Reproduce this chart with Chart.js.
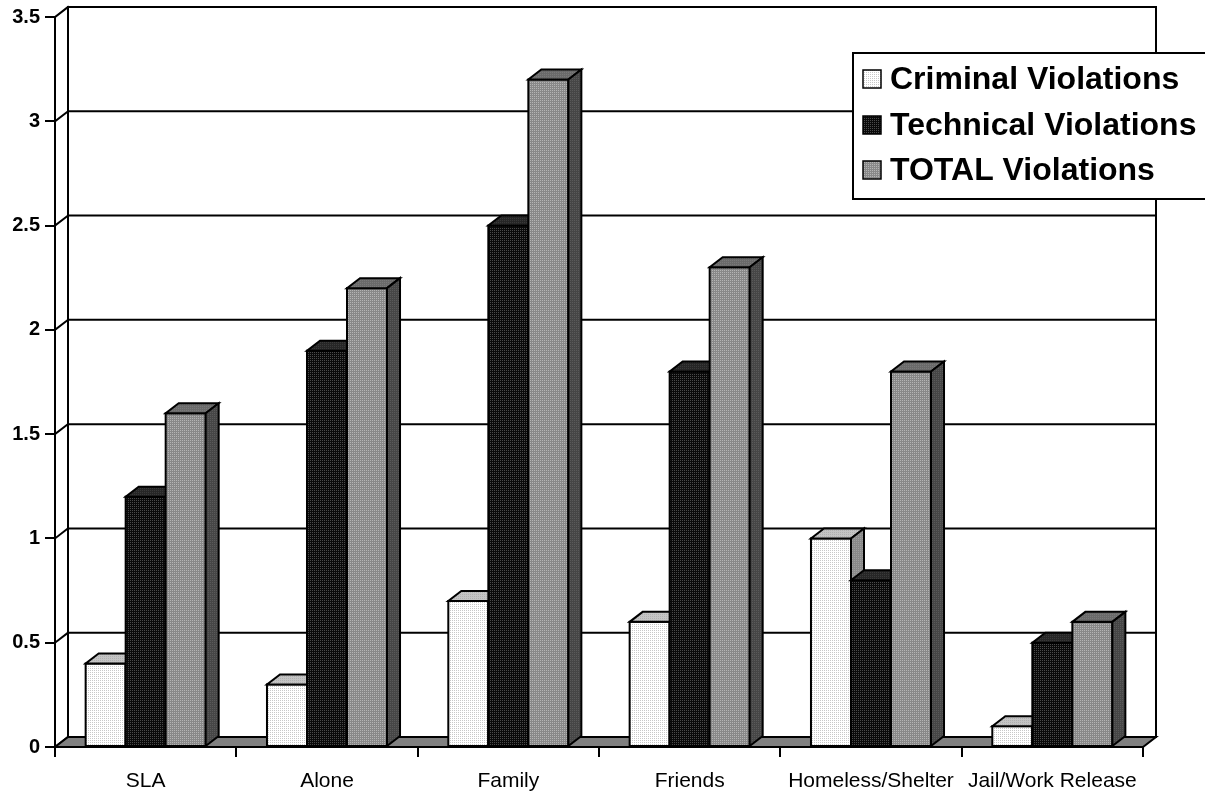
<!DOCTYPE html>
<html>
<head>
<meta charset="utf-8">
<script src="https://cdn.jsdelivr.net/npm/chart.js@4.4.1/dist/chart.umd.min.js"></script>
<style>
  html, body { margin: 0; padding: 0; background: #fff; }
  #wrap { width: 1205px; height: 795px; }
</style>
</head>
<body>
<div id="wrap"><canvas id="c" width="1205" height="795"></canvas></div>
<script>
// ---- data ----
const categories = ['SLA', 'Alone', 'Family', 'Friends', 'Homeless/Shelter', 'Jail/Work Release'];
const seriesNames = ['Criminal Violations', 'Technical Violations', 'TOTAL Violations'];
const criminal = [0.4, 0.3, 0.7, 0.6, 1.0, 0.1];
const technical = [1.2, 1.9, 2.5, 1.8, 0.8, 0.5];
const total = [1.6, 2.2, 3.2, 2.3, 1.8, 0.6];
const yTickValues = [0, 0.5, 1, 1.5, 2, 2.5, 3, 3.5];
const yTickLabels = ['0', '0.5', '1', '1.5', '2', '2.5', '3', '3.5'];

// ---- styling ----
const DX = 13, DY = 10;
const FONT = '"Liberation Sans", Arial, Helvetica, sans-serif';

function makePattern(base, dot) {
  const c = document.createElement('canvas');
  c.width = 4; c.height = 4;
  const g = c.getContext('2d');
  g.fillStyle = base; g.fillRect(0, 0, 4, 4);
  g.fillStyle = dot;
  g.fillRect(0, 0, 1, 1); g.fillRect(2, 2, 1, 1);
  g.fillRect(2, 0, 1, 1); g.fillRect(0, 2, 1, 1);
  return g.createPattern(c, 'repeat');
}
const faces = [
  { front: makePattern('#ffffff', '#c8c8c8'), top: makePattern('#c4c4c4', '#b0b0b0'), side: makePattern('#8a8a8a', '#a0a0a0'), solid: '#f0f0f0' },
  { front: makePattern('#0a0a0a', '#4a4a4a'), top: makePattern('#262626', '#3a3a3a'), side: makePattern('#202020', '#383838'), solid: '#1a1a1a' },
  { front: makePattern('#888888', '#b4b4b4'), top: makePattern('#6a6a6a', '#7a7a7a'), side: makePattern('#464646', '#5a5a5a'), solid: '#909090' }
];

const threeD = {
  id: 'threeD',
  beforeDatasetsDraw(chart) {
    const { ctx, chartArea: a, scales: { y } } = chart;
    const y0 = y.getPixelForValue(0), yTop = y.getPixelForValue(yTickValues[yTickValues.length - 1]);
    ctx.save();
    ctx.strokeStyle = '#000';
    ctx.lineWidth = 2;
    ctx.lineCap = 'square';
    yTickValues.forEach(v => {
      const py = y.getPixelForValue(v);
      ctx.beginPath();
      ctx.moveTo(a.left + DX, py - DY);
      ctx.lineTo(a.right + DX, py - DY);
      ctx.stroke();
      ctx.beginPath();
      ctx.moveTo(a.left, py);
      ctx.lineTo(a.left + DX, py - DY);
      ctx.stroke();
    });
    ctx.beginPath();
    ctx.moveTo(a.left + DX, yTop - DY); ctx.lineTo(a.left + DX, y0 - DY);
    ctx.moveTo(a.right + DX, yTop - DY); ctx.lineTo(a.right + DX, y0 - DY);
    ctx.stroke();
    ctx.beginPath();
    ctx.moveTo(a.left, y0);
    ctx.lineTo(a.right, y0);
    ctx.lineTo(a.right + DX, y0 - DY);
    ctx.lineTo(a.left + DX, y0 - DY);
    ctx.closePath();
    ctx.fillStyle = '#808080';
    ctx.fill();
    ctx.lineJoin = 'miter';
    ctx.stroke();
    ctx.restore();
  },
  afterDatasetsDraw(chart) {
    const { ctx } = chart;
    ctx.save();
    ctx.strokeStyle = '#000';
    ctx.lineWidth = 2;
    ctx.lineJoin = 'miter';
    for (let i = 0; i < categories.length; i++) {
      for (let d = 0; d < chart.data.datasets.length; d++) {
        const el = chart.getDatasetMeta(d).data[i];
        const l = el.x - el.width / 2, r = el.x + el.width / 2;
        const t = el.y, b = el.base;
        const f = faces[d];
        ctx.fillStyle = f.front;
        ctx.fillRect(l, t, r - l, b - t);
        ctx.strokeRect(l, t, r - l, b - t);
        ctx.beginPath();
        ctx.moveTo(l, t); ctx.lineTo(r, t); ctx.lineTo(r + DX, t - DY); ctx.lineTo(l + DX, t - DY); ctx.closePath();
        ctx.fillStyle = f.top; ctx.fill(); ctx.stroke();
        ctx.beginPath();
        ctx.moveTo(r, t); ctx.lineTo(r + DX, t - DY); ctx.lineTo(r + DX, b - DY); ctx.lineTo(r, b); ctx.closePath();
        ctx.fillStyle = f.side; ctx.fill(); ctx.stroke();
      }
    }
    ctx.restore();
  },
  afterDraw(chart) {
    const { ctx } = chart;
    ctx.save();
    ctx.fillStyle = '#fff';
    ctx.fillRect(853, 53, 360, 146);
    ctx.strokeStyle = '#000';
    ctx.lineWidth = 2;
    ctx.strokeRect(853, 53, 360, 146);
    const rows = [79, 125, 170];
    ctx.font = 'bold 32px ' + FONT;
    ctx.textBaseline = 'middle';
    ctx.textAlign = 'left';
    seriesNames.forEach((name, k) => {
      const cy = rows[k];
      ctx.fillStyle = faces[k].front;
      ctx.fillRect(863, cy - 9, 18, 18);
      ctx.lineWidth = 1.5;
      ctx.strokeRect(863, cy - 9, 18, 18);
      ctx.fillStyle = '#000';
      ctx.fillText(name, 890, cy + 1);
    });
    ctx.restore();
  }
};

const seriesValues = [criminal, technical, total];
new Chart(document.getElementById('c'), {
  type: 'bar',
  data: {
    labels: categories,
    datasets: seriesNames.map((n, k) => ({
      label: n,
      data: seriesValues[k],
      backgroundColor: faces[k].solid,
      borderWidth: 0,
      categoryPercentage: 0.662,
      barPercentage: 1.0
    }))
  },
  options: {
    responsive: false,
    devicePixelRatio: 1,
    animation: false,
    layout: { padding: { top: 17, right: 62, left: 0, bottom: 0 } },
    plugins: { legend: { display: false }, tooltip: { enabled: false } },
    scales: {
      x: {
        offset: true,
        grid: { display: true, drawOnChartArea: false, drawTicks: true, tickLength: 10, color: '#000', lineWidth: 2, offset: true },
        border: { display: true, color: '#000', width: 2 },
        ticks: { color: '#000', font: { family: FONT, size: 21 }, padding: 12, maxRotation: 0, autoSkip: false },
        afterFit(s) { s.height = 48; }
      },
      y: {
        min: 0, max: 3.5,
        afterBuildTicks(s) { s.ticks = yTickValues.map(v => ({ value: v })); },
        grid: { display: true, drawOnChartArea: false, drawTicks: true, tickLength: 10, color: '#000', lineWidth: 2 },
        border: { display: true, color: '#000', width: 2 },
        ticks: {
          color: '#000', font: { family: FONT, size: 20, weight: 'bold' }, padding: 5,
          callback(v) { const i = yTickValues.indexOf(v); return i >= 0 ? yTickLabels[i] : ''; }
        },
        afterFit(s) { s.width = 55; }
      }
    }
  },
  plugins: [threeD]
});
</script>
</body>
</html>
